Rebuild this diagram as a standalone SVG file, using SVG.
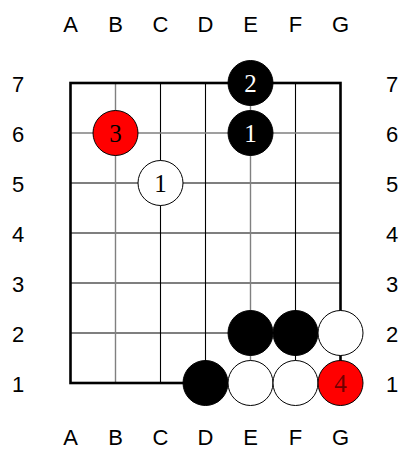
<svg xmlns="http://www.w3.org/2000/svg" width="401" height="456" viewBox="0 0 401 456">
<style>
.lbl{font-family:"Liberation Sans",Arial,sans-serif;font-size:22px;fill:#000;text-anchor:middle}
.g{stroke:#000;stroke-width:1.1;fill:none}
.gg{stroke:#808080;stroke-width:1.4;fill:none}
.border{stroke:#000;stroke-width:2.6;fill:none}
.b{fill:#000;stroke:#000;stroke-width:1}
.w{fill:#fff;stroke:#000;stroke-width:1}
.r{fill:#f00;stroke:#000;stroke-width:1}
.num{font-family:"Liberation Serif","Times New Roman",serif;font-size:25px;text-anchor:middle}
</style>
<rect width="401" height="456" fill="#fff"/>
<g id="labels">
<text class="lbl" x="70.5" y="32">A</text>
<text class="lbl" x="115.5" y="32">B</text>
<text class="lbl" x="160.5" y="32">C</text>
<text class="lbl" x="205.5" y="32">D</text>
<text class="lbl" x="250.5" y="32">E</text>
<text class="lbl" x="295.5" y="32">F</text>
<text class="lbl" x="340.5" y="32">G</text>
<text class="lbl" x="70.5" y="445">A</text>
<text class="lbl" x="115.5" y="445">B</text>
<text class="lbl" x="160.5" y="445">C</text>
<text class="lbl" x="205.5" y="445">D</text>
<text class="lbl" x="250.5" y="445">E</text>
<text class="lbl" x="295.5" y="445">F</text>
<text class="lbl" x="340.5" y="445">G</text>
<text class="lbl" x="18" y="92">7</text>
<text class="lbl" x="18" y="142">6</text>
<text class="lbl" x="18" y="192">5</text>
<text class="lbl" x="18" y="242">4</text>
<text class="lbl" x="18" y="292">3</text>
<text class="lbl" x="18" y="342">2</text>
<text class="lbl" x="18" y="392">1</text>
<text class="lbl" x="392" y="92">7</text>
<text class="lbl" x="392" y="142">6</text>
<text class="lbl" x="392" y="192">5</text>
<text class="lbl" x="392" y="242">4</text>
<text class="lbl" x="392" y="292">3</text>
<text class="lbl" x="392" y="342">2</text>
<text class="lbl" x="392" y="392">1</text>
</g>
<g id="connectors">
<path class="g" d="M160.5 83V383M205.5 83V383M295.5 83V383M70.5 183H340.5M70.5 233H340.5M70.5 283H340.5M70.5 333H340.5"/>
<path class="gg" d="M115.5 83V383M250.5 83V383M70.5 133H340.5"/>
<rect class="border" x="70.5" y="83" width="270" height="300"/>
</g>
<g id="E7"><circle class="b" cx="250.5" cy="83" r="22.5"/><text class="num" x="250.5" y="91.5" fill="#fff">2</text></g>
<g id="E6"><circle class="b" cx="250.5" cy="133" r="22.5"/><text class="num" x="250.5" y="141.5" fill="#fff">1</text></g>
<g id="B6"><circle class="r" cx="115.5" cy="133" r="22.5"/><text class="num" x="115.5" y="141.5" fill="#000">3</text></g>
<g id="C5"><circle class="w" cx="160.5" cy="183" r="22.5"/><text class="num" x="160.5" y="191.5" fill="#000">1</text></g>
<g id="E2"><circle class="b" cx="250.5" cy="333" r="22.5"/></g>
<g id="F2"><circle class="b" cx="295.5" cy="333" r="22.5"/></g>
<g id="G2"><circle class="w" cx="340.5" cy="333" r="22.5"/></g>
<g id="D1"><circle class="b" cx="205.5" cy="383" r="22.5"/></g>
<g id="E1"><circle class="w" cx="250.5" cy="383" r="22.5"/></g>
<g id="F1"><circle class="w" cx="295.5" cy="383" r="22.5"/></g>
<g id="G1"><circle class="r" cx="340.5" cy="383" r="22.5"/><text class="num" x="340.5" y="391.5" fill="#700000">4</text></g>
</svg>
